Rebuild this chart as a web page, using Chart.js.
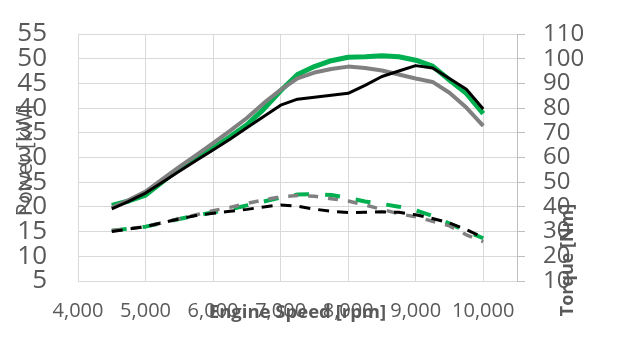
<!DOCTYPE html>
<html><head><meta charset="utf-8">
<script src="https://cdn.jsdelivr.net/npm/chart.js@4"></script>
<style>html,body{margin:0;padding:0;background:#fff;overflow:hidden}</style>
</head><body>
<canvas id="c" width="631" height="353"></canvas>
<script>
const rpm = [4500,4750,5000,5250,5500,5750,6000,6250,6500,6750,7000,7250,7500,7750,8000,8250,8500,8750,9000,9250,9500,9750,10000];
const powerBlack = [19.6,21.1,22.8,25.0,27.2,29.4,31.5,33.7,36.0,38.3,40.6,41.8,42.2,42.6,43.0,44.6,46.4,47.5,48.6,48.1,46.0,43.8,39.8];
const powerGray  = [19.8,21.4,23.1,25.6,28.1,30.5,32.9,35.4,38.0,41.0,43.7,46.0,47.2,47.9,48.4,48.1,47.6,46.8,46.0,45.3,43.1,40.1,36.4];
const powerGreen = [20.3,21.2,22.4,25.1,27.8,29.9,31.9,34.2,36.6,39.8,43.5,46.8,48.4,49.6,50.3,50.4,50.6,50.4,49.7,48.5,45.7,43.0,38.9];
const torqueBlack = [30.0,31.0,32.0,33.6,35.2,36.5,37.4,38.2,39.0,40.0,40.8,40.3,39.1,38.2,37.7,37.8,38.0,37.8,36.8,35.3,33.5,30.8,27.6];
const torqueGray  = [30.4,31.2,32.0,33.6,35.2,36.8,38.5,39.8,41.4,42.8,44.1,44.6,44.3,43.3,42.4,40.8,39.0,37.2,36.0,34.2,32.3,28.7,25.9];
const torqueGreen = [30.4,31.2,32.0,33.5,35.1,36.5,37.8,39.0,40.6,42.2,43.8,45.0,45.2,44.8,43.6,42.2,41.2,40.1,38.6,36.3,33.2,30.2,27.3];
const xTicks = [4000,5000,6000,7000,8000,9000,10000];
const leftTicks = [5,10,15,20,25,30,35,40,45,50,55];
const rightTicks = [10,20,30,40,50,60,70,80,90,100,110];
const xTitle = 'Engine Speed [rpm]';
const leftTitle = 'Power [kW]';
const rightTitle = 'Torque [Nm]';

const pts = arr => rpm.map((r,i)=>({x:r,y:arr[i]}));
const FONT = '"Open Sans", "Liberation Sans", sans-serif';
const GREEN = '#00B050', GRAY = '#808080', BLACK = '#000000';

const axisTitles = {
  id: 'axisTitles',
  afterDraw(chart){
    const {ctx, chartArea:a} = chart;
    ctx.save();
    ctx.fillStyle = '#595959';
    ctx.textAlign = 'center';
    ctx.textBaseline = 'middle';
    ctx.font = 'bold 18.5px ' + FONT;
    ctx.fillText(xTitle, (a.left+a.right)/2, a.bottom + 32);
    ctx.save();
    ctx.translate(26, (a.top+a.bottom)/2 + 3);
    ctx.rotate(-Math.PI/2);
    ctx.font = '21px ' + FONT;
    ctx.fillText(leftTitle, 0, 0);
    ctx.restore();
    ctx.translate(a.right + 51, a.bottom - 21);
    ctx.rotate(-Math.PI/2);
    ctx.font = 'bold 18px ' + FONT;
    ctx.fillText(rightTitle, 0, 0);
    ctx.restore();
  }
};

const noVPad = s => { s.paddingTop = 0; s.paddingBottom = 0; };

new Chart(document.getElementById('c'), {
  type: 'line',
  data: {
    datasets: [
      {data: pts(powerBlack), borderColor: BLACK, borderWidth: 3, yAxisID: 'y'},
      {data: pts(powerGray), borderColor: GRAY, borderWidth: 4, yAxisID: 'y'},
      {data: pts(powerGreen), borderColor: GREEN, borderWidth: 5, yAxisID: 'y'},
      {data: pts(torqueBlack), borderColor: BLACK, borderWidth: 3, borderDash: [11,8], yAxisID: 'y2'},
      {data: pts(torqueGray), borderColor: GRAY, borderWidth: 3.5, borderDash: [10,10], yAxisID: 'y2'},
      {data: pts(torqueGreen), borderColor: GREEN, borderWidth: 4, borderDash: [15,16], yAxisID: 'y2'}
    ]
  },
  options: {
    responsive: false,
    animation: false,
    devicePixelRatio: 1,
    layout: {padding: {top: 34, left: 0, right: 0, bottom: 0}},
    elements: {point: {radius: 0}, line: {tension: 0, borderCapStyle: 'butt', borderJoinStyle: 'round'}},
    plugins: {legend: {display: false}, tooltip: {enabled: false}, title: {display: false}},
    scales: {
      x: {
        type: 'linear', position: 'bottom', min: 4000, max: 10500,
        afterBuildTicks: s => { s.ticks = xTicks.map(v => ({value: v})); },
        afterFit: s => { s.height = 72; s.paddingLeft = 0; s.paddingRight = 0; },
        grid: {color: '#d9d9d9', lineWidth: 1, drawTicks: false},
        border: {color: '#d9d9d9'},
        ticks: {color: '#595959', font: {family: FONT, size: 20}, padding: 18, maxRotation: 0, autoSkip: false,
                callback: v => Number(v).toLocaleString('en-US')}
      },
      y: {
        position: 'left', min: 5, max: 55,
        afterBuildTicks: s => { s.ticks = leftTicks.map(v => ({value: v})); },
        afterFit: s => { s.width = 78; noVPad(s); },
        grid: {color: '#d9d9d9', lineWidth: 1, drawTicks: false},
        border: {color: '#d9d9d9'},
        ticks: {color: '#595959', font: {family: FONT, size: 26}, padding: 31, autoSkip: false}
      },
      y2: {
        position: 'right', min: 10, max: 110,
        afterBuildTicks: s => { s.ticks = rightTicks.map(v => ({value: v})); },
        afterFit: s => { s.width = 114; noVPad(s); },
        grid: {drawOnChartArea: false, color: '#bfbfbf', tickLength: 8, lineWidth: 1},
        border: {color: '#bfbfbf'},
        ticks: {color: '#595959', font: {family: FONT, size: 24}, padding: 18, autoSkip: false}
      }
    }
  },
  plugins: [axisTitles]
});
</script>
</body></html>
